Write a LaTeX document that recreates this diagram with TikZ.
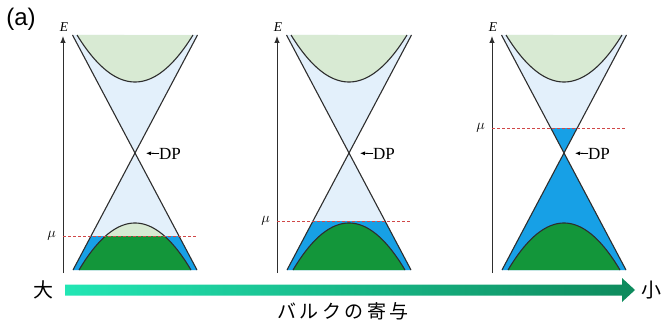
\documentclass[tikz,border=0pt]{standalone}
\usepackage{fontspec}
\setmainfont{Liberation Serif}
\newfontfamily\sansf{Liberation Sans}
\newfontfamily\cjk{Noto Sans CJK JP}
\usetikzlibrary{arrows.meta}
\definecolor{lblue}{HTML}{E3F0FB}
\definecolor{lgreen}{HTML}{D8EAD3}
\definecolor{fblue}{HTML}{17A0E6}
\definecolor{dgreen}{HTML}{13963A}
\definecolor{edgec}{HTML}{2E2E2E}
\definecolor{mured}{HTML}{D04848}
\definecolor{arrL}{HTML}{22E6B4}
\definecolor{arrR}{HTML}{0E8A5C}
\tikzset{
  bandline/.style={draw=edgec, line width=1.1pt},
  muline/.style={draw=mured, line width=1pt, dash pattern=on 3pt off 2pt},
  axisline/.style={draw=edgec, line width=1pt, -{Latex[length=7pt,width=5.5pt]}},
  dparrow/.style={draw=black, line width=0.8pt, -{Latex[length=5pt,width=4pt]}},
  elabel/.style={font=\fontsize{13.5}{13.5}\selectfont\itshape, inner sep=0pt},
  mulabel/.style={font=\fontsize{15}{15}\selectfont, inner sep=0pt, anchor=east},
  dplabel/.style={font=\fontsize{17}{17}\selectfont, inner sep=0pt, anchor=west},
  cjklabel/.style={font=\fontsize{20}{20}\selectfont\cjk, inner sep=0pt}
}
\newcommand\bandpanel[3]{% #1 centre x, #2 mu y, #3 name prefix
\begin{scope}[shift={(#1,0)}]
  \fill[lblue] (-62.5,35) -- (62.5,35) -- (0,153) -- cycle;
  \fill[lblue] (0,153) -- (62,270) -- (-62,270) -- cycle;
  \begin{scope}
    \clip (-70,#2) rectangle (70,270);
    \fill[fblue] (-62.5,35) -- (62.5,35) -- (0,153) -- cycle;
    \fill[fblue] (0,153) -- (62,270) -- (-62,270) -- cycle;
  \end{scope}
  \fill[lgreen] plot[domain=-58:58, samples=50] (\x,{82-47*(\x/58)^2}) -- cycle;
  \begin{scope}
    \clip (-70,0) rectangle (70,#2);
    \fill[lgreen] plot[domain=-56:56, samples=50] (\x,{223+47*(\x/56)^2}) -- cycle;
  \end{scope}
  \begin{scope}
    \clip (-70,#2) rectangle (70,270);
    \fill[dgreen] plot[domain=-56:56, samples=50] (\x,{223+47*(\x/56)^2}) -- cycle;
  \end{scope}
  \draw[bandline] (-62.5,35) -- (62,270);
  \draw[bandline] (62.5,35) -- (-62,270);
  \draw[bandline] plot[domain=-58:58, samples=50] (\x,{82-47*(\x/58)^2});
  \draw[bandline] plot[domain=-56:56, samples=50] (\x,{223+47*(\x/56)^2});
  \coordinate (#3bot) at (-72,273);
  \coordinate (#3top) at (-72,36);
  \draw[axisline] (#3bot) -- (#3top);
  \node[elabel] (#3E) at (-71,27) {E};
  \coordinate (#3muL) at (-72,#2);
  \coordinate (#3muR) at (62,#2);
  \draw[muline] (#3muL) -- (#3muR);
  \node[mulabel] (#3mu) at (-79,#2) {$\mu$};
  \coordinate (#3dp) at (0,153);
  \node[dplabel] (#3dplab) at (24,153.5) {DP};
  \draw[dparrow, shorten >=11pt] (#3dplab.west) -- (#3dp);
\end{scope}}
\begin{document}
\begin{tikzpicture}[x=1pt,y=-1pt]
  \useasboundingbox (0,0) rectangle (672,329);
  \node[font=\fontsize{24}{24}\selectfont\sansf, inner sep=0pt] (alabel) at (21,19) {(a)};
  \bandpanel{135}{236}{p1}
  \bandpanel{349}{221}{p2}
  \bandpanel{564}{128}{p3}
  \shade[left color=arrL, right color=arrR]
    (65,284.5) -- (622,284.5) -- (622,278) -- (635,290) -- (622,302) -- (622,295.5) -- (65,295.5) -- cycle;
  \node[cjklabel] (big) at (43,290) {大};
  \node[cjklabel] (small) at (651,290) {小};
  \node[font=\fontsize{19}{19}\selectfont\cjk\addfontfeature{LetterSpace=18}, inner sep=0pt] (bulk) at (343,311) {バルクの寄与};
\end{tikzpicture}
\end{document}
